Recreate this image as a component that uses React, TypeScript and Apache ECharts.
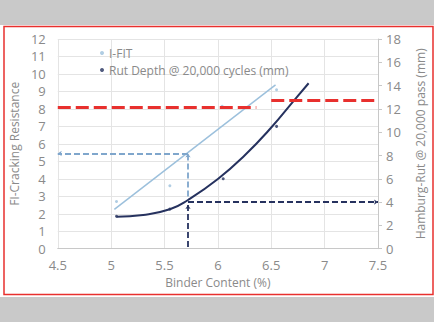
import React, { useEffect, useRef } from "react";
import * as echarts from "echarts";

const xTicks = { min: 4.5, max: 7.5, step: 0.5 };
const ifitPoints: [number, number][] = [[5.05, 2.7], [5.55, 3.6], [6.04, 8.15], [6.55, 9.1]];
const ifitTrend: [number, number][] = [[5.03, 2.25], [6.54, 9.37]];
const rutPoints: [number, number][] = [[5.05, 2.78], [5.55, 3.4], [6.05, 6.0], [6.55, 10.5]];
const rutTrend: [number, number][] = [
  [5.05, 2.75], [5.3, 2.9], [5.55, 3.38], [5.72, 4.18], [6.0, 5.98],
  [6.25, 8.0], [6.5, 10.4], [6.72, 12.8], [6.85, 14.2],
];
const redLeft: [number, number][] = [[4.5, 8.1], [6.36, 8.1]];
const redRight: [number, number][] = [[6.5, 12.75], [7.5, 12.75]];
const blueH: [number, number][] = [[5.72, 5.45], [4.5, 5.45]];
const blueV: [number, number][] = [[5.72, 2.98], [5.72, 5.45]];
const navyV: [number, number][] = [[5.72, 0.1], [5.72, 2.5]];
const navyH: [number, number][] = [[5.72, 4.0], [7.5, 4.0]];

const LIGHT = "#9cc0dc";
const NAVY = "#26325f";
const RED = "#e8302e";
const GRAY = "#8a8a8a";
const FONT = "Open Sans";

function arrowSeg(seg: [number, number][], color: string, width: number, dash: number[]) {
  return [
    { coord: seg[0], symbol: "none" },
    { coord: seg[1], symbol: "arrow", lineStyle: { color, width, type: dash } },
  ];
}

export default function App() {
  const ref = useRef<HTMLDivElement>(null);
  useEffect(() => {
    document.body.style.margin = "0";
    const chart = echarts.init(ref.current!, null, { renderer: "svg" });
    chart.setOption({
      animation: false,
      backgroundColor: "#ffffff",
      textStyle: { fontFamily: FONT },
      graphic: [
        { type: "rect", shape: { x: 0, y: 0, width: 434, height: 25 }, style: { fill: "#c9c9c9" }, z: -10 },
        { type: "rect", shape: { x: 0, y: 297, width: 434, height: 25 }, style: { fill: "#c9c9c9" }, z: -10 },
        { type: "rect", shape: { x: 4, y: 26.5, width: 429, height: 268 }, style: { fill: "none", stroke: RED, lineWidth: 1.5 }, z: -5 },
      ],
      grid: { left: 55.7, right: 44, top: 39, bottom: 73.3 },
      legend: {
        data: ["I-FIT", "Rut Depth @ 20,000 cycles (mm)"],
        orient: "vertical",
        left: 95,
        top: 42,
        itemGap: 5,
        itemWidth: 4,
        itemHeight: 4,
        icon: "circle",
        textStyle: { color: GRAY, fontSize: 12, fontFamily: FONT },
      },
      xAxis: {
        type: "value",
        min: xTicks.min,
        max: xTicks.max,
        interval: xTicks.step,
        name: "Binder Content (%)",
        nameLocation: "middle",
        nameGap: 28,
        nameTextStyle: { color: GRAY, fontSize: 12 },
        axisLine: { show: true, lineStyle: { color: "#c8c8c8" } },
        axisTick: { show: false },
        axisLabel: { color: GRAY, fontSize: 13, margin: 10 },
        splitLine: { show: true, lineStyle: { color: "#e4e4e4" } },
      },
      yAxis: [
        {
          type: "value",
          min: 0,
          max: 12,
          interval: 1,
          name: "FI-Cracking Resistance",
          nameLocation: "middle",
          nameGap: 30,
          nameTextStyle: { color: GRAY, fontSize: 12 },
          axisLine: { show: false },
          axisTick: { show: false },
          axisLabel: { color: GRAY, fontSize: 13, margin: 12 },
          splitLine: { show: true, lineStyle: { color: "#e4e4e4" } },
        },
        {
          type: "value",
          min: 0,
          max: 18,
          interval: 2,
          position: "right",
          name: "Hamburg-Rut @ 20,000 pass (mm)",
          nameLocation: "middle",
          nameGap: 36,
          nameRotate: 90,
          nameTextStyle: { color: GRAY, fontSize: 12 },
          axisLine: { show: true, lineStyle: { color: "#c8c8c8" } },
          axisTick: { show: true, length: 4, lineStyle: { color: "#c8c8c8" } },
          axisLabel: { color: GRAY, fontSize: 13, margin: 8 },
          splitLine: { show: false },
        },
      ],
      series: [
        {
          name: "I-FIT",
          type: "scatter",
          data: ifitPoints,
          symbol: "circle",
          symbolSize: 3,
          itemStyle: { color: LIGHT },
          silent: true,
        },
        {
          name: "ifit-trend",
          type: "line",
          data: ifitTrend,
          showSymbol: false,
          lineStyle: { color: LIGHT, width: 1.5 },
          silent: true,
          markLine: {
            silent: true,
            symbolSize: 4,
            label: { show: false },
            data: [
              [
                { coord: redLeft[0], symbol: "none" },
                { coord: redLeft[1], symbol: "none", lineStyle: { color: RED, width: 3, type: [13, 5] } },
              ],
              arrowSeg(blueH, "#7fa6cc", 1.8, [6, 3]),
              arrowSeg(blueV, "#7fa6cc", 1.8, [6, 3]),
              arrowSeg(navyV, NAVY, 1.8, [6, 3]),
            ],
          },
        },
        {
          name: "Rut Depth @ 20,000 cycles (mm)",
          type: "scatter",
          yAxisIndex: 1,
          data: rutPoints,
          symbol: "circle",
          symbolSize: 3,
          itemStyle: { color: NAVY },
          silent: true,
        },
        {
          name: "rut-trend",
          type: "line",
          yAxisIndex: 1,
          data: rutTrend,
          smooth: true,
          showSymbol: false,
          lineStyle: { color: NAVY, width: 2 },
          silent: true,
          markLine: {
            silent: true,
            symbolSize: 4,
            label: { show: false },
            data: [
              [
                { coord: redRight[0], symbol: "none" },
                { coord: redRight[1], symbol: "none", lineStyle: { color: RED, width: 3, type: [13, 5] } },
              ],
              arrowSeg(navyH, NAVY, 1.8, [6, 3]),
            ],
          },
        },
      ],
    });
    return () => chart.dispose();
  }, []);
  return <div ref={ref} style={{ position: "absolute", left: 0, top: 0, width: 434, height: 322 }} />;
}
